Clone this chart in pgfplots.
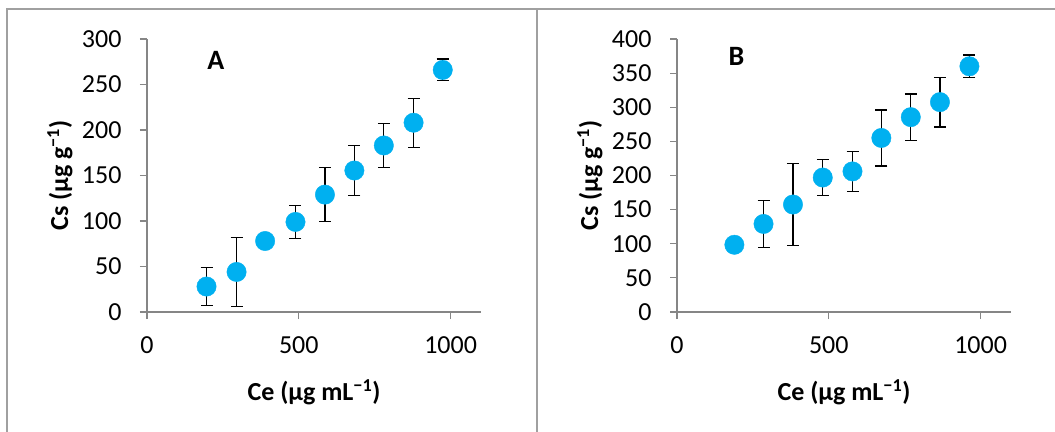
\documentclass[border=0pt]{standalone}
\usepackage{fontspec}
\setmainfont{Carlito}
\usepackage{pgfplots}
\pgfplotsset{compat=1.18}
\usepackage{pgfplotstable}
\definecolor{markblue}{HTML}{00B0F0}
\definecolor{axisgray}{HTML}{868686}
\definecolor{framegray}{HTML}{A0A0A0}

\pgfplotstableread{
x y e
196 28 21
295 44 38
389 78 4
489 99 18
586 129 29.5
683 155.5 27.5
780 183 24.5
878 208 27
974 266 12
}\dataA

\pgfplotstableread{
x y e
189 98.5 4
285 129 34
382 157.5 59.5
480 197 26.5
578 206 29
673 255 41
770 285.5 34
866 307.5 36.5
963 360 16.5
}\dataB

\pgfplotsset{
  panel/.style={
    scale only axis, width=334bp, height=273bp,
    xmin=0, xmax=1100, ymin=0,
    axis x line*=bottom, axis y line*=left,
    axis line style={axisgray, line width=1.2bp},
    every tick/.style={axisgray, line width=1.2bp},
    tick align=outside, major tick length=7bp,
    xtick={0,500,1000},
    /pgf/number format/assume math mode=true,
    /pgf/number format/1000 sep={},
    tick label style={font=\fontsize{26bp}{30bp}\selectfont, black},
    xticklabel style={yshift=-14bp},
    yticklabel style={xshift=-15bp},
    every axis y label/.style={at={([xshift=-87bp]axis description cs:0,0.5)}, anchor=center, rotate=90, font=\bfseries\fontsize{26bp}{30bp}\selectfont},
    every axis x label/.style={at={([yshift=-80bp]axis description cs:0.5,0)}, anchor=center, font=\bfseries\fontsize{26bp}{30bp}\selectfont},
    xlabel={Ce (µg mL\textsuperscript{\char"2212 1})},
    ylabel={Cs (µg g\textsuperscript{\char"2212 1})},
    clip=false,
  },
  ebars/.style={only marks, mark=none, forget plot,
    error bars/.cd, y dir=both, y explicit,
    error bar style={black, line width=1.2bp},
    error mark options={black, rotate=90, mark size=6bp, line width=1.2bp}},
  dots/.style={only marks, mark=*, mark size=9.7bp,
    mark options={fill=markblue, draw=markblue}},
}

\begin{document}
\begin{tikzpicture}
\path[use as bounding box] (0,0) rectangle (1055bp,432bp);
\draw[framegray, line width=1.6bp] (7bp,0) -- (7bp,423bp) -- (1055bp,423bp);
\draw[framegray, line width=1.6bp] (537bp,0) -- (537bp,423bp);

\begin{axis}[panel, at={(147bp,120bp)}, anchor=south west,
  ymax=300, ytick={0,50,...,300}]
  \addplot[ebars] table[x=x, y=y, y error=e] {\dataA};
  \addplot[dots] table[x=x, y=y] {\dataA};
  \node[font=\bfseries\fontsize{28bp}{32bp}\selectfont] at (axis cs:227,277) {A};
\end{axis}

\begin{axis}[panel, at={(677bp,120bp)}, anchor=south west,
  ymax=400, ytick={0,50,...,400}]
  \addplot[ebars] table[x=x, y=y, y error=e] {\dataB};
  \addplot[dots] table[x=x, y=y] {\dataB};
  \node[font=\bfseries\fontsize{28bp}{32bp}\selectfont] at (axis cs:196,375) {B};
\end{axis}
\end{tikzpicture}
\end{document}
